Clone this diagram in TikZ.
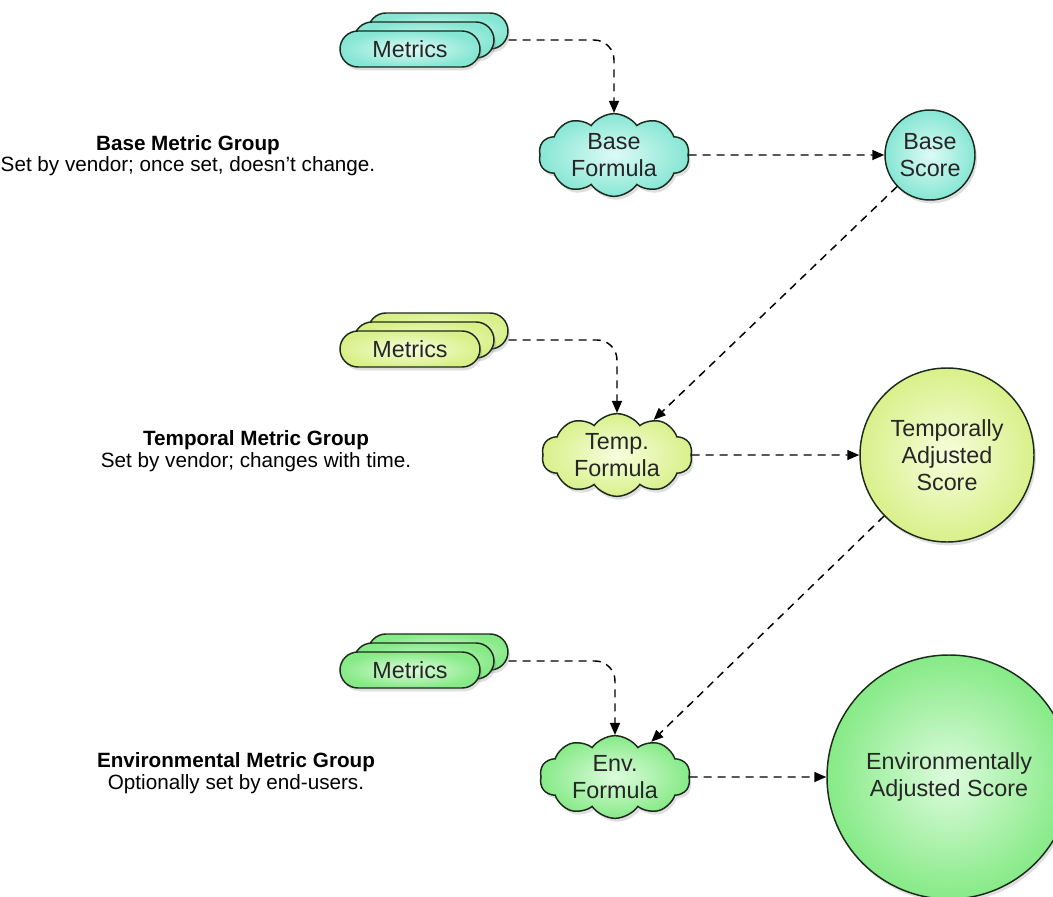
\documentclass[tikz,border=0pt]{standalone}
\usepackage{fontspec}
\setmainfont{Liberation Sans}
\usetikzlibrary{shapes.symbols,shapes.misc,shadows,arrows.meta,calc}
\definecolor{edge}{HTML}{1C2A1C}
\definecolor{cyanO}{HTML}{86E6D4}
\definecolor{cyanI}{HTML}{DDFBF5}
\definecolor{yelO}{HTML}{D9F08A}
\definecolor{yelI}{HTML}{F7FDDC}
\definecolor{grnO}{HTML}{86EA86}
\definecolor{grnI}{HTML}{DDFBDD}
\tikzset{
  shape base/.style={draw=edge, line width=1.1pt, shading=radial,
    drop shadow={opacity=0.25, shadow xshift=1.5pt, shadow yshift=-2.5pt},
    font=\fontsize{17.5}{20}\selectfont, text=black!85, align=center},
  pill/.style={shape base, rounded rectangle, minimum width=105pt, minimum height=27pt, inner sep=0pt},
  formula/.style={shape base, cloud, cloud puffs=10, cloud puff arc=110, cloud ignores aspect,
    minimum width=113pt, minimum height=62pt, inner sep=0pt},
  score/.style={shape base, circle, inner sep=0pt},
  cyanfill/.style={inner color=cyanI, outer color=cyanO},
  yelfill/.style={inner color=yelI, outer color=yelO},
  grnfill/.style={inner color=grnI, outer color=grnO},
  conn/.style={line width=1.1pt, dash pattern=on 6pt off 4.5pt, -{Triangle[length=9pt,width=7.5pt]}},
  grouptitle/.style={font=\bfseries\fontsize{15.5}{18}\selectfont, anchor=center},
  groupnote/.style={font=\fontsize{15.5}{18}\selectfont, anchor=center}
}
\begin{document}
\begin{tikzpicture}[x=0.75pt,y=-0.75pt]
\useasboundingbox (0,0) rectangle (1053,896);
\clip (0,0) rectangle (1053,896);
\fill[white] (0,0) rectangle (1053,896);

% ---------- Base group ----------
\node[pill, cyanfill] (m1c) at (438,31) {};
\node[pill, cyanfill] (m1b) at (424,40) {};
\node[pill, cyanfill] (m1) at (410,49) {Metrics};
\node[formula, cyanfill] (f1) at (614,155) {Base\\Formula};
\node[score, cyanfill, minimum size=67.5pt] (s1) at (930,155) {Base\\Score};
\node[grouptitle] (t1) at (188,145) {Base Metric Group};
\node[groupnote] (n1) at (188,166) {Set by vendor; once set, doesn't change.};

% ---------- Temporal group ----------
\node[pill, yelfill] (m2c) at (438,331) {};
\node[pill, yelfill] (m2b) at (424,340) {};
\node[pill, yelfill] (m2) at (410,349) {Metrics};
\node[formula, yelfill] (f2) at (617,455) {Temp.\\Formula};
\node[score, yelfill, minimum size=130.5pt] (s2) at (947,455) {Temporally\\Adjusted\\Score};
\node[grouptitle] (t2) at (256,440) {Temporal Metric Group};
\node[groupnote] (n2) at (256,462) {Set by vendor; changes with time.};

% ---------- Environmental group ----------
\node[pill, grnfill] (m3c) at (438,652) {};
\node[pill, grnfill] (m3b) at (424,661) {};
\node[pill, grnfill] (m3) at (410,670) {Metrics};
\node[formula, grnfill] (f3) at (615,777) {Env.\\Formula};
\node[score, grnfill, minimum size=183pt] (s3) at (949,777) {Environmentally\\Adjusted Score};
\node[grouptitle] (t3) at (236,762) {Environmental Metric Group};
\node[groupnote] (n3) at (236,784) {Optionally set by end-users.};

% ---------- connectors ----------
\draw[conn, rounded corners=15pt] (m1c.east |- m1b.east) -| (f1.north);
\draw[conn] (f1.east) -- (s1.west);
\draw[conn] (s1) -- (f2);

\draw[conn, rounded corners=15pt] (m2c.east |- m2b.east) -| (f2.north);
\draw[conn] (f2.east) -- (s2.west);
\draw[conn] (s2) -- (f3);

\draw[conn, rounded corners=15pt] (m3c.east |- m3b.east) -| (f3.north);
\draw[conn] (f3.east) -- (s3.west);
\end{tikzpicture}
\end{document}
